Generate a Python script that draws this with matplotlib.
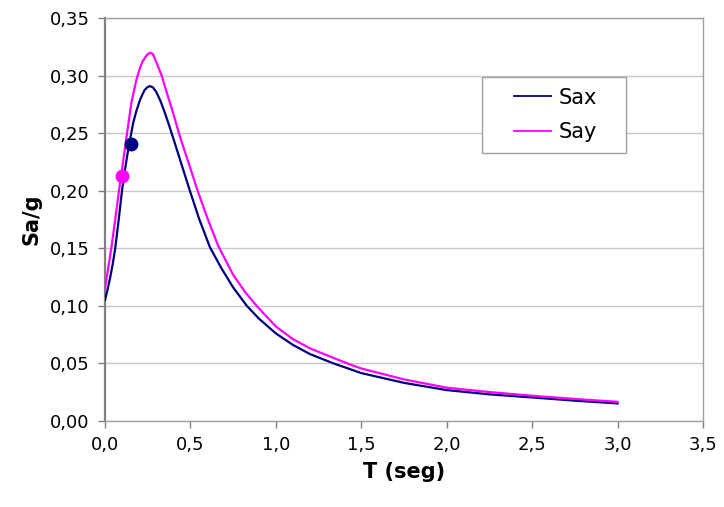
import numpy as np
import matplotlib
matplotlib.use("Agg")
import matplotlib.pyplot as plt
from matplotlib.patches import Rectangle

# periods (s) and spectral accelerations
t_sax = [0.00, 0.015, 0.031, 0.045, 0.06, 0.08, 0.0995, 0.121, 0.135, 0.15,
         0.165, 0.183, 0.205, 0.22, 0.232, 0.248, 0.263, 0.28, 0.30, 0.325,
         0.35, 0.375, 0.40, 0.45, 0.497, 0.55, 0.614, 0.68, 0.75, 0.83,
         0.90, 1.00, 1.10, 1.20, 1.336, 1.50, 1.75, 2.00, 2.25, 2.50,
         2.75, 3.00]
sax = [0.105, 0.114, 0.125, 0.136, 0.150, 0.1745, 0.200, 0.222, 0.235, 0.247,
       0.259, 0.269, 0.279, 0.284, 0.2876, 0.290, 0.291, 0.290, 0.286, 0.278,
       0.268, 0.257, 0.2455, 0.222, 0.200, 0.176, 0.151, 0.133, 0.116, 0.100,
       0.089, 0.076, 0.066, 0.058, 0.050, 0.0415, 0.033, 0.0267, 0.023, 0.0203,
       0.0175, 0.0151]

t_say = [0.00, 0.018, 0.037, 0.06, 0.082, 0.10, 0.129, 0.155, 0.183, 0.205,
         0.222, 0.245, 0.263, 0.28, 0.30, 0.332, 0.35, 0.375, 0.40, 0.433,
         0.45, 0.49, 0.54, 0.60, 0.663, 0.75, 0.82, 0.887, 0.95, 1.00,
         1.10, 1.20, 1.316, 1.434, 1.50, 1.75, 2.00, 2.25, 2.50, 2.75,
         3.00]
say = [0.115, 0.132, 0.150, 0.175, 0.200, 0.219, 0.250, 0.277, 0.296, 0.307,
       0.313, 0.318, 0.320, 0.319, 0.312, 0.300, 0.291, 0.279, 0.267, 0.250,
       0.242, 0.224, 0.201, 0.176, 0.152, 0.127, 0.112, 0.100, 0.090, 0.082,
       0.071, 0.063, 0.056, 0.049, 0.0455, 0.036, 0.0288, 0.025, 0.0218, 0.019,
       0.0165]

# highlighted points
pt_sax = (0.15, 0.241)
pt_say = (0.10, 0.213)

x_ticks = [0.0, 0.5, 1.0, 1.5, 2.0, 2.5, 3.0, 3.5]
x_labels = ["0,0", "0,5", "1,0", "1,5", "2,0", "2,5", "3,0", "3,5"]
y_ticks = [0.00, 0.05, 0.10, 0.15, 0.20, 0.25, 0.30, 0.35]
y_labels = ["0,00", "0,05", "0,10", "0,15", "0,20", "0,25", "0,30", "0,35"]

navy = "#000080"
magenta = "#ff00ff"

fig = plt.figure(figsize=(7.24, 5.07), dpi=100)
ax = fig.add_axes([0.145, 0.170, 0.826, 0.794])

ax.plot(t_sax, sax, color=navy, lw=1.6, label="Sax", zorder=3,
        solid_joinstyle="round")
ax.plot(t_say, say, color=magenta, lw=1.6, label="Say", zorder=3,
        solid_joinstyle="round")
ax.plot(*pt_sax, "o", color=navy, ms=9, zorder=4)
ax.plot(*pt_say, "o", color=magenta, ms=9, zorder=4)

ax.set_xlim(0, 3.5)
ax.set_ylim(0, 0.35)
ax.set_xticks(x_ticks)
ax.set_xticklabels(x_labels)
ax.set_yticks(y_ticks)
ax.set_yticklabels(y_labels)
ax.tick_params(direction="out", length=5, width=1, color="#808080",
               labelsize=13, pad=6)

ax.grid(axis="y", color="#c8c8c8", lw=1)
ax.set_axisbelow(True)
for side in ["top", "right", "bottom"]:
    ax.spines[side].set_color("#a0a0a0")
    ax.spines[side].set_linewidth(1)
ax.spines["left"].set_color("#808080")
ax.spines["left"].set_linewidth(1.6)

ax.set_xlabel("T (seg)", fontsize=15, fontweight="bold", labelpad=6)
ax.set_ylabel("Sa/g", fontsize=15, fontweight="bold", labelpad=6)

# legend box like the spreadsheet one
ax.add_patch(Rectangle((0.630, 0.665), 0.241, 0.189, transform=ax.transAxes,
                       facecolor="white", edgecolor="#a0a0a0", lw=1, zorder=5))
leg = ax.legend(loc="center", bbox_to_anchor=(0.753, 0.760), frameon=False,
                fontsize=15, handlelength=1.8, handletextpad=0.35,
                labelspacing=0.7)
leg.set_zorder(6)
for line in leg.get_lines():
    line.set_linewidth(1.3)

fig.savefig("out.png", dpi=100)
